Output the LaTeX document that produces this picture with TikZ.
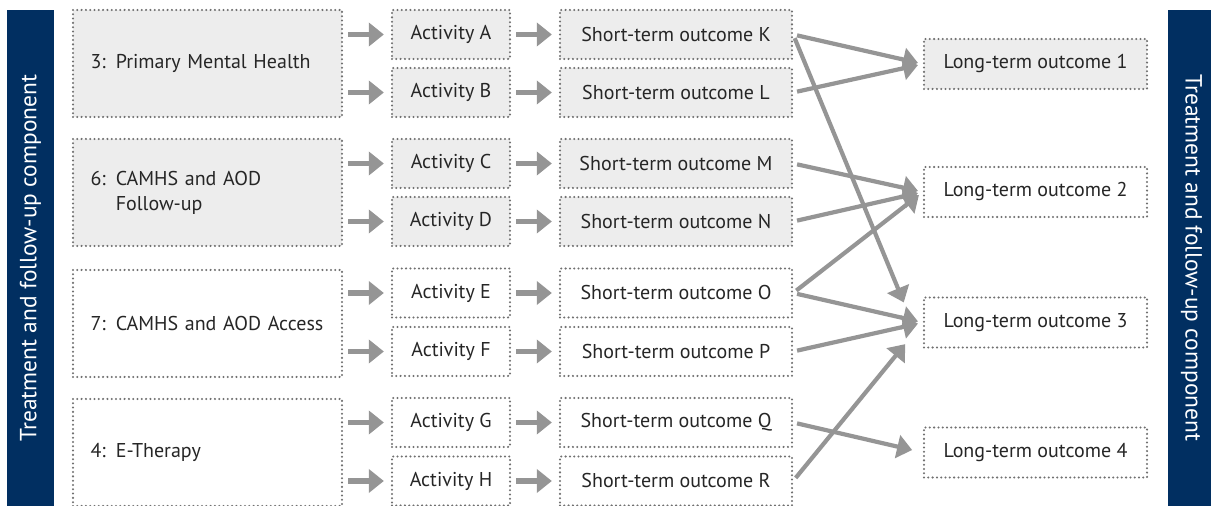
\documentclass[tikz,border=0pt]{standalone}
\usepackage{fontspec}
\setmainfont{PT Sans}
\usetikzlibrary{arrows.meta,positioning,calc}
\definecolor{lmnavy}{HTML}{012F61}
\definecolor{lmgray}{HTML}{EDEDED}
\definecolor{lmdots}{HTML}{707070}
\definecolor{lmarrow}{HTML}{959595}
\tikzset{
  box/.style={draw=lmdots, line width=1.15pt, dash pattern=on 0pt off 2.15pt,
    line cap=round, inner sep=0pt, text=black!85, font=\fontsize{10}{12.5}\selectfont},
  prog/.style={box, minimum width=134.5pt, minimum height=53.5pt,
    text width=117pt, align=left},
  act/.style={box, minimum width=59pt, minimum height=24.5pt},
  short/.style={box, minimum width=116pt, minimum height=24.5pt},
  long/.style={box, minimum width=111.5pt, minimum height=25pt},
  shaded/.style={fill=lmgray},
  plain/.style={fill=white},
  flow/.style={-{Triangle[length=7.5pt,width=11.5pt]}, line width=2.6pt, lmarrow,
    shorten <=2.5pt, shorten >=3.5pt},
  cross/.style={flow, line width=2.1pt, shorten <=2pt, shorten >=2.5pt},
  band/.style={fill=lmnavy, text=white, inner sep=0pt, minimum width=248pt,
    minimum height=23.5pt, font=\fontsize{11.7}{13}\selectfont},
}
\begin{document}
\begin{tikzpicture}[x=0.5pt, y=-0.5pt]
\useasboundingbox (0,0) rectangle (1211,506);

% side bands
\node[band, rotate=90] (lband) at (30.5,258) {Treatment and follow-up component};
\node[band, rotate=-90] (rband) at (1191.5,258) {Treatment and follow-up component};

% programs
\node[prog, shaded] (pmh) at (207.5,63.5) {3: Primary Mental Health};
\node[prog, shaded] (camf) at (207.5,192.5) {6: CAMHS and AOD\\\phantom{6: }Follow-up};
\node[prog, plain] (cama) at (207.5,323.5) {7: CAMHS and AOD Access};
\node[prog, plain] (ether) at (207.5,452.5) {4: E-Therapy};

% activities and short-term outcomes
\foreach \p/\a/\k/\y/\s in {pmh/A/K/34.5/shaded, pmh/B/L/92.5/shaded,
    camf/C/M/163.5/shaded, camf/D/N/221.5/shaded, cama/E/O/293/plain,
    cama/F/P/351.5/plain, ether/G/Q/422.5/plain, ether/H/R/481/plain} {
  \node[act, \s] (act\a) at (451,\y) {Activity \a};
  \node[short, \s] (st\k) at (676,\y) {Short-term outcome \k};
  \draw[flow] (\p.east |- act\a.west) -- (act\a.west);
  \draw[flow] (act\a) -- (st\k);
}

% long-term outcomes
\node[long, shaded] (lt1) at (1035.5,64) {Long-term outcome 1};
\node[long, plain] (lt2) at (1035.5,192) {Long-term outcome 2};
\node[long, plain] (lt3) at (1035.5,322.5) {Long-term outcome 3};
\node[long, plain] (lt4) at (1035.5,452.5) {Long-term outcome 4};

\foreach \s/\t in {K/lt1, L/lt1, M/lt2, N/lt2, O/lt2, O/lt3, P/lt3} {
  \draw[cross] (st\s.east) -- (\t.west);
}
\draw[cross, shorten >=25pt] (stK.east) -- (lt3.south west);
\draw[cross, shorten >=14pt] (stR.east) -- (lt3.west);
\draw[cross, shorten >=5.5pt] (stQ.east) -- (lt4.west);

\end{tikzpicture}
\end{document}
